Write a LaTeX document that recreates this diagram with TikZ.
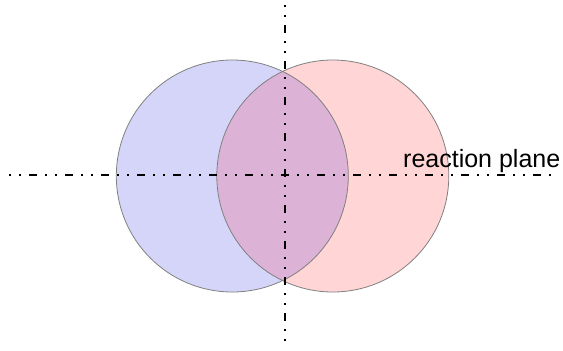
\documentclass[tikz,border=0pt]{standalone}
\usepackage{fontspec}
\setmainfont{Liberation Sans}
\definecolor{bluefill}{RGB}{213,213,250}
\definecolor{redfill}{RGB}{255,213,213}
\definecolor{mixfill}{RGB}{220,179,214}
\definecolor{rimgray}{RGB}{128,128,128}
\tikzset{
  disc/.style={circle, minimum size=232pt, inner sep=0pt, draw=rimgray, line width=0.8pt},
  axisline/.style={line width=2pt, dash pattern=on 2pt off 8pt on 2pt off 8pt on 8pt off 8pt}
}
\begin{document}
\begin{tikzpicture}[x=1pt, y=-1pt]
\useasboundingbox (0,0) rectangle (563,351);
\fill[bluefill] (232.3,176) circle (116);
\fill[redfill] (332.8,176) circle (116);
\begin{scope}
\clip (232.3,176) circle (116);
\fill[mixfill] (332.8,176) circle (116);
\end{scope}
\node[disc] (blue) at (232.3,176) {};
\node[disc] (red) at (332.8,176) {};
\coordinate (west) at (9,175);
\coordinate (east) at (557,175);
\coordinate (north) at (284.7,5);
\coordinate (south) at (284.7,348);
\draw[axisline] (west) -- (east);
\draw[axisline] (north) -- (south);
\node[anchor=base west, inner sep=0pt, font=\fontsize{25}{30}\selectfont] (plane) at (403,167) {reaction plane};
\end{tikzpicture}
\end{document}
